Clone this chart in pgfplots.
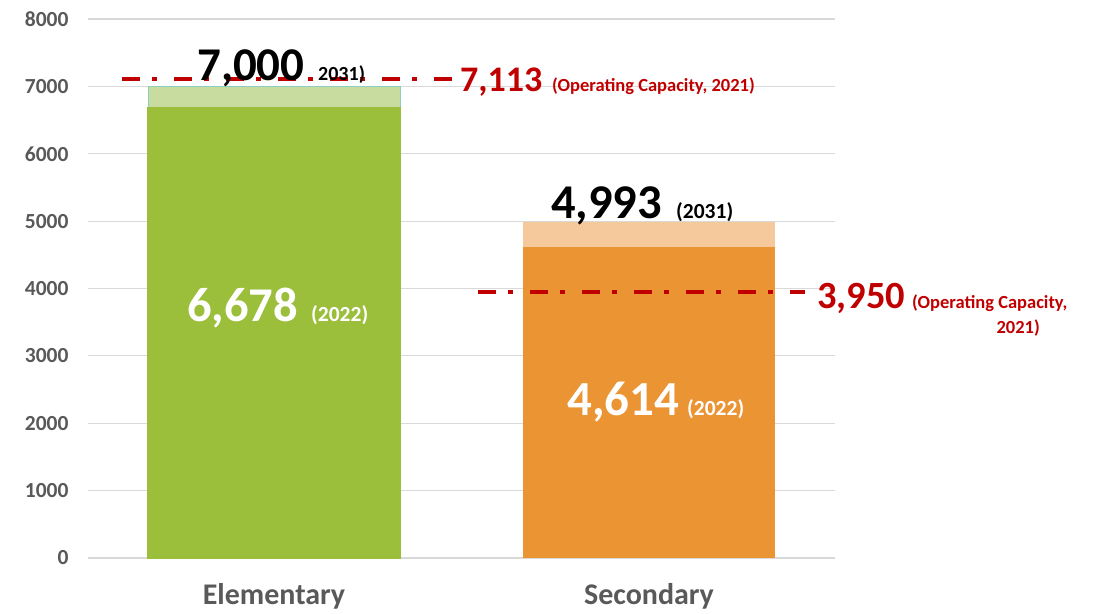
\documentclass[border=0pt]{standalone}
\usepackage{fontspec}
\setmainfont{Carlito}
\usepackage{pgfplots}
\pgfplotsset{compat=1.18}
\definecolor{grn}{HTML}{9BBE3B}
\definecolor{lgrn}{HTML}{C9DCA0}
\definecolor{bordteal}{HTML}{8CCFC0}
\definecolor{org}{HTML}{EB9433}
\definecolor{lorg}{HTML}{F5C99B}
\definecolor{capred}{HTML}{C00000}
\definecolor{txtgray}{HTML}{595959}
\definecolor{gridgray}{HTML}{D9D9D9}
\tikzset{lbl/.style={inner sep=0pt, anchor=base west, font=\bfseries}}
\pgfplotsset{mybar/.style={ybar, bar width=252pt, bar shift=0pt, draw=none}}
\begin{document}
\begin{tikzpicture}[x=1pt,y=1pt]
\begin{axis}[
  at={(0,0)}, anchor=south west, scale only axis,
  width=747pt, height=539pt,
  xmin=-0.496, xmax=1.496, ymin=0, ymax=8000,
  axis line style={draw=none},
  ytick={0,1000,2000,3000,4000,5000,6000,7000,8000},
  yticklabels={0,1000,2000,3000,4000,5000,6000,7000,8000},
  ymajorgrids, grid style={gridgray, line width=1.2pt},
  major tick length=0pt,
  xtick={0,1}, xticklabels={Elementary,Secondary},
  yticklabel style={font=\fontsize{21.5}{24}\selectfont\bfseries, text=txtgray, xshift=-16pt},
  xticklabel style={font=\fontsize{30}{33}\selectfont\bfseries, text=txtgray, yshift=-22pt},
  clip=false,
]
\addplot[mybar, fill=lgrn, draw=bordteal, line width=1pt] coordinates {(0,7000)};
\addplot[mybar, fill=lorg] coordinates {(1,4993)};
\addplot[mybar, fill=grn, draw=grn, line width=1.3pt] coordinates {(0,6678)};
\addplot[mybar, fill=org] coordinates {(1,4614)};
\addplot[capred, line width=3.5pt, dash pattern=on 18pt off 12pt on 5pt off 17pt] coordinates {(-0.405,7113) (0.483,7113)};
\addplot[capred, line width=3.5pt, dash pattern=on 18pt off 12pt on 5pt off 17pt] coordinates {(0.544,3950) (1.416,3950)};
% labels
\node[lbl, font=\fontsize{47}{50}\selectfont\bfseries] at (axis cs:-0.2053,7094) {7,000};
\node[lbl, font=\fontsize{20}{24}\selectfont\bfseries] at (axis cs:0.1173,7094) {2031)};
\node[lbl, text=capred, font=\fontsize{36}{40}\selectfont\bfseries] at (axis cs:0.496,6931) {7,113};
\node[lbl, text=capred, font=\fontsize{18.5}{22}\selectfont\bfseries] at (axis cs:0.7413,6931) {(Operating Capacity, 2021)};
\node[lbl, font=\fontsize{48.5}{52}\selectfont\bfseries] at (axis cs:0.7387,5046) {4,993};
\node[lbl, font=\fontsize{21.5}{24}\selectfont\bfseries] at (axis cs:1.072,5046) {(2031)};
\node[lbl, text=capred, font=\fontsize{38.5}{42}\selectfont\bfseries] at (axis cs:1.448,3696) {3,950};
\node[lbl, text=capred, font=\fontsize{18.5}{22}\selectfont\bfseries] at (axis cs:1.7013,3696) {(Operating Capacity,};
\node[lbl, anchor=base east, text=capred, font=\fontsize{18.5}{22}\selectfont\bfseries] at (axis cs:2.0427,3325) {2021)};
\node[lbl, text=white, font=\fontsize{48.5}{52}\selectfont\bfseries] at (axis cs:-0.232,3503) {6,678};
\node[lbl, text=white, font=\fontsize{21.5}{24}\selectfont\bfseries] at (axis cs:0.0987,3503) {(2022)};
\node[lbl, text=white, font=\fontsize{49}{52}\selectfont\bfseries] at (axis cs:0.7813,2122) {4,614};
\node[lbl, text=white, font=\fontsize{21.5}{24}\selectfont\bfseries] at (axis cs:1.1013,2122) {(2022)};
\end{axis}
\pgfresetboundingbox
\path (-88,-55) rectangle (1006,558);
\end{tikzpicture}
\end{document}
